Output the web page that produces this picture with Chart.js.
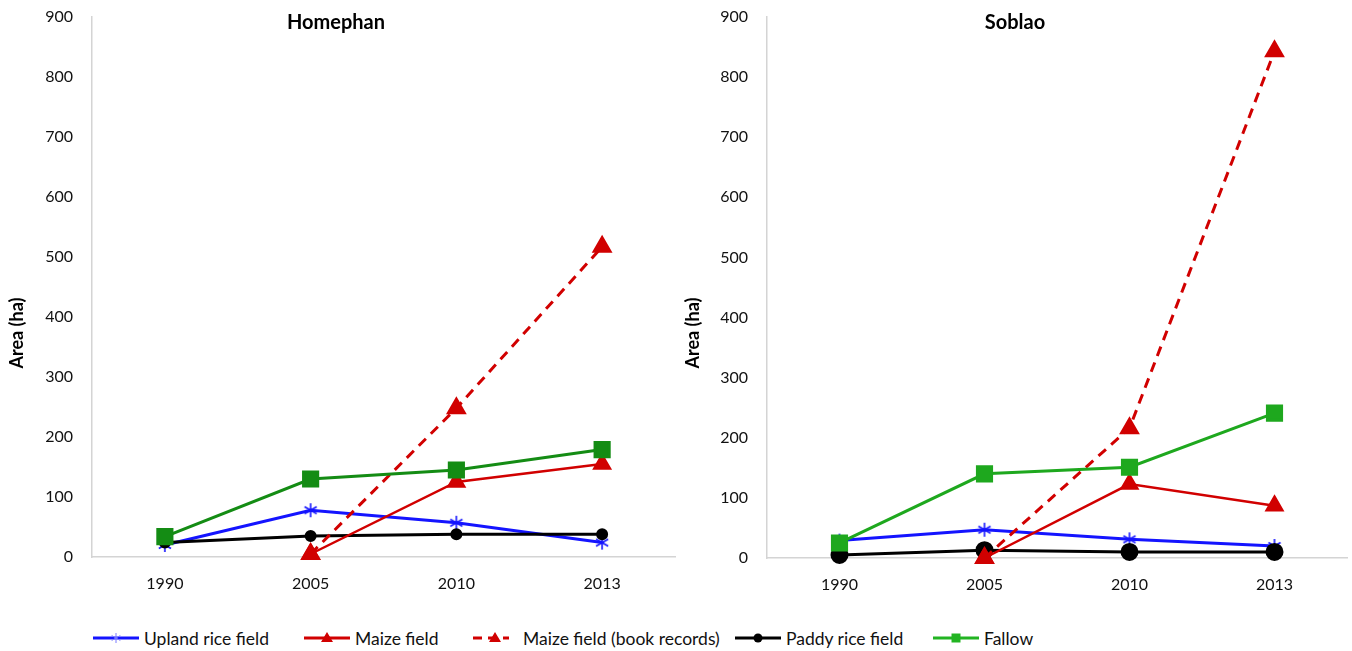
<!DOCTYPE html>
<html>
<head>
<meta charset="utf-8">
<script src="https://cdn.jsdelivr.net/npm/chart.js@4"></script>
<style>
  body { margin: 0; background: #fff; font-family: Lato, sans-serif; }
  #wrap { position: relative; width: 1352px; height: 651px; overflow: hidden; }
  #leftChart { position: absolute; left: 0; top: 0; }
  #rightChart { position: absolute; left: 676px; top: 0; }
  .leg { position: absolute; top: 628px; height: 20px; display: flex; align-items: center;
         font-size: 17.5px; color: #111; white-space: nowrap; }
  .leg canvas { margin-right: 5px; }
</style>
</head>
<body>
<div id="wrap">
  <canvas id="leftChart" width="688" height="600"></canvas>
  <canvas id="rightChart" width="684" height="600"></canvas>
  <div id="legend"></div>
</div>
<script>
// categories
const years = ["1990", "2005", "2010", "2013"];
const yTicks = [0, 100, 200, 300, 400, 500, 600, 700, 800, 900];

// Homephan (ha)
const homUpland = [20, 78, 57, 24];
const homMaize = [null, 5, 125, 155];
const homMaizeBook = [null, 5, 248, 517];
const homPaddy = [24, 35, 38, 38];
const homFallow = [34, 130, 145, 179];

// Soblao (ha)
const sobUpland = [29, 47, 31, 20];
const sobMaize = [null, 0, 123, 87];
const sobMaizeBook = [null, 0, 216, 843];
const sobPaddy = [5, 13, 10, 10];
const sobFallow = [25, 140, 151, 241];

const seriesNames = [
  "Upland rice field",
  "Maize field",
  "Maize field (book records)",
  "Paddy rice field",
  "Fallow",
];

const BLUE = "#1414ff";
const RED = "#d10000";
const BLACK = "#000000";
const GREEN_L = "#148c14";
const GREEN_R = "#1ea81e";

// asterisk marker like the excel "star"
function makeStar(size, color, lw) {
  const c = document.createElement("canvas");
  c.width = size;
  c.height = size;
  const ctx = c.getContext("2d");
  const m = size / 2;
  const r = size / 2 - 1;
  ctx.strokeStyle = color;
  ctx.lineWidth = lw;
  [90, 30, 150].forEach((deg) => {
    const a = (deg * Math.PI) / 180;
    ctx.beginPath();
    ctx.moveTo(m - r * Math.cos(a), m - r * Math.sin(a));
    ctx.lineTo(m + r * Math.cos(a), m + r * Math.sin(a));
    ctx.stroke();
  });
  return c;
}
const starMarker = makeStar(16, BLUE, 1.6);

// title and y axis title drawn inside the chart
const labelsPlugin = {
  id: "panelLabels",
  afterDraw(chart, args, opts) {
    const ctx = chart.ctx;
    ctx.save();
    ctx.fillStyle = "#000";
    ctx.font = "bold 20px Lato";
    ctx.textAlign = "center";
    ctx.textBaseline = "middle";
    ctx.fillText(opts.title, opts.titleX, 23);
    ctx.translate(17, 333);
    ctx.rotate(-Math.PI / 2);
    ctx.font = "bold 18px Lato";
    ctx.fillText("Area (ha)", 0, 0);
    ctx.restore();
  },
};

function makeChart(id, title, titleX, data, green, dotR, yWidth, xHeight) {
  const [upland, maize, maizeBook, paddy, fallow] = data;
  return new Chart(document.getElementById(id), {
    type: "line",
    data: {
      labels: years,
      datasets: [
        {
          label: seriesNames[0],
          data: upland,
          borderColor: BLUE,
          backgroundColor: BLUE,
          borderWidth: 3,
          pointStyle: starMarker,
          order: 4,
        },
        {
          label: seriesNames[1],
          data: maize,
          borderColor: RED,
          backgroundColor: RED,
          borderWidth: 2.5,
          pointStyle: "triangle",
          pointRadius: 9,
          order: 2,
        },
        {
          label: seriesNames[2],
          data: maizeBook,
          borderColor: RED,
          backgroundColor: RED,
          borderWidth: 3,
          borderDash: [10, 7],
          pointStyle: "triangle",
          pointRadius: 9,
          order: 1,
        },
        {
          label: seriesNames[3],
          data: paddy,
          borderColor: BLACK,
          backgroundColor: BLACK,
          borderWidth: 3,
          pointStyle: "circle",
          pointRadius: dotR,
          order: 3,
        },
        {
          label: seriesNames[4],
          data: fallow,
          borderColor: green,
          backgroundColor: green,
          borderWidth: 3,
          pointStyle: "rect",
          pointRadius: 10,
          order: 0,
        },
      ],
    },
    options: {
      responsive: false,
      animation: false,
      clip: false,
      spanGaps: false,
      elements: {
        line: { tension: 0 },
        point: { borderWidth: 0, hoverRadius: 0 },
      },
      layout: { padding: { top: 17, right: 5, left: 0, bottom: 0 } },
      plugins: {
        legend: { display: false },
        tooltip: { enabled: false },
        panelLabels: { title: title, titleX: titleX },
      },
      scales: {
        x: {
          offset: true,
          grid: { display: false },
          border: { display: true, color: "#d4d4d4", width: 1.5 },
          ticks: { color: "#111", font: { family: "Lato", size: 16 }, padding: 9 },
          afterFit(scale) {
            scale.height = xHeight;
          },
        },
        y: {
          min: 0,
          max: 900,
          afterBuildTicks(scale) {
            scale.ticks = yTicks.map((v) => ({ value: v }));
          },
          grid: { display: false },
          border: { display: true, color: "#d4d4d4", width: 1.5 },
          ticks: { color: "#111", font: { family: "Lato", size: 16 }, padding: 11 },
          afterFit(scale) {
            scale.width = yWidth;
            scale.paddingTop = 0;
          },
        },
      },
    },
    plugins: [labelsPlugin],
  });
}

makeChart(
  "leftChart",
  "Homephan",
  336,
  [homUpland, homMaize, homMaizeBook, homPaddy, homFallow],
  GREEN_L,
  4.5,
  92,
  43
);
makeChart(
  "rightChart",
  "Soblao",
  339,
  [sobUpland, sobMaize, sobMaizeBook, sobPaddy, sobFallow],
  GREEN_R,
  7.5,
  91,
  42
);

// shared legend under both panels
const legendItems = [
  { left: 93, color: BLUE, marker: "star", dash: null },
  { left: 304, color: RED, marker: "triangle", dash: null },
  { left: 473, color: RED, marker: "triangle", dash: [9, 6] },
  { left: 735, color: BLACK, marker: "circle", dash: null },
  { left: 933, color: "#22b422", marker: "rect", dash: null },
];

function drawLegendMarker(ctx, kind, x, y, color) {
  ctx.fillStyle = color;
  ctx.strokeStyle = color;
  ctx.beginPath();
  if (kind === "triangle") {
    ctx.moveTo(x, y - 6);
    ctx.lineTo(x + 6, y + 4);
    ctx.lineTo(x - 6, y + 4);
    ctx.closePath();
    ctx.fill();
  } else if (kind === "circle") {
    ctx.arc(x, y, 4.5, 0, Math.PI * 2);
    ctx.fill();
  } else if (kind === "rect") {
    ctx.rect(x - 4.5, y - 4.5, 9, 9);
    ctx.fill();
  } else {
    ctx.strokeStyle = "#7a7aff";
    ctx.lineWidth = 1;
    [90, 30, 150].forEach((deg) => {
      const a = (deg * Math.PI) / 180;
      ctx.moveTo(x - 5 * Math.cos(a), y - 5 * Math.sin(a));
      ctx.lineTo(x + 5 * Math.cos(a), y + 5 * Math.sin(a));
    });
    ctx.stroke();
  }
}

const legendBox = document.getElementById("legend");
legendItems.forEach((item, i) => {
  const div = document.createElement("div");
  div.className = "leg";
  div.style.left = item.left + "px";
  const cv = document.createElement("canvas");
  const w = 46;
  cv.width = w;
  cv.height = 20;
  const ctx = cv.getContext("2d");
  ctx.strokeStyle = item.color;
  ctx.lineWidth = 3;
  if (item.dash) {
    ctx.setLineDash(item.dash);
    ctx.beginPath();
    ctx.moveTo(0, 10);
    ctx.lineTo(36, 10);
    ctx.stroke();
    ctx.setLineDash([]);
    drawLegendMarker(ctx, item.marker, 22, 10, item.color);
    cv.style.marginRight = "4px";
  } else {
    ctx.beginPath();
    ctx.moveTo(0, 10);
    ctx.lineTo(w, 10);
    ctx.stroke();
    drawLegendMarker(ctx, item.marker, w / 2, 10, item.color);
  }
  const span = document.createElement("span");
  span.textContent = seriesNames[i];
  div.appendChild(cv);
  div.appendChild(span);
  legendBox.appendChild(div);
});
</script>
</body>
</html>
